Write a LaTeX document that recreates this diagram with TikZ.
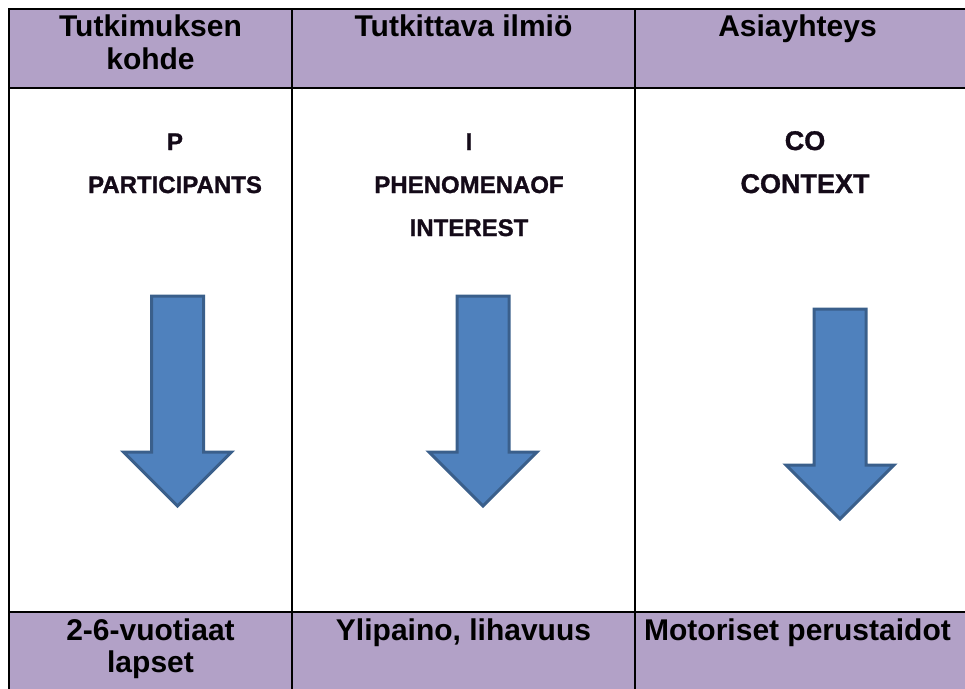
\documentclass[tikz,border=0pt]{standalone}
\usepackage{fontspec}
\setmainfont{Liberation Sans}
\newfontfamily\heavyfont[BoldFeatures={FakeBold=1.2}]{Liberation Sans}
\usetikzlibrary{positioning}
\definecolor{lilac}{HTML}{B2A1C7}
\definecolor{arrowblue}{HTML}{4F81BD}
\definecolor{arrowedge}{HTML}{3A5F8B}
\definecolor{inkpurple}{HTML}{140A18}
\tikzset{
rule/.style={draw=black, line width=2.5pt}, band/.style={fill=lilac},
title/.style={font=\bfseries\fontsize{30}{32.5}\selectfont, align=center, inner sep=0, anchor=base},
pico/.style={font=\heavyfont\bfseries\fontsize{24}{43}\selectfont, text=inkpurple, align=center, inner sep=0, anchor=base},
bigarrow/.style={fill=arrowblue, draw=arrowedge, line width=3pt, line join=miter}}

\begin{document}
\begin{tikzpicture}[x=1pt, y=-1pt]
\useasboundingbox (0,0) rectangle (965,688);
% coloured rows
\fill [band] (9,9) rectangle (975,88);
\fill [band] (9,612) rectangle (975,700);
% grid
\draw [rule] (9,700) -- (9,9) -- (975,9);
\draw [rule] (9,88) -- (975,88);
\draw [rule] (9,612) -- (975,612);
\draw [rule] (292,9) -- (292,700);
\draw [rule] (635,9) -- (635,700);
% texts (y is the baseline of the last line)
\node [title] at (150.5,69.2) (head-1) {Tutkimuksen\\kohde};
\node [title] at (463.5,36.7) (head-2) {Tutkittava ilmiö};
\node [title] at (797.5,36.7) (head-3) {Asiayhteys};
\node [pico] at (175,193) (pico-1) {P\\PARTICIPANTS};
\node [pico] at (469,236) (pico-2) {I\\PHENOMENAOF\\INTEREST};
\node [pico, font=\heavyfont\bfseries\fontsize{27}{43}\selectfont] at (805,193) (pico-3) {CO\\CONTEXT};
\node [title] at (150.5,672.5) (foot-1) {2-6-vuotiaat\\lapset};
\node [title] at (463.5,640) (foot-2) {Ylipaino, lihavuus};
\node [title] at (797.5,640) (foot-3) {Motoriset perustaidot};
% arrows
\foreach \ax/\ay [count=\j] in {177.5/296, 483/296, 840/309}{
  \coordinate (top-\j) at (\ax,\ay);
  \draw [bigarrow] (top-\j) ++(-26,0) -- ++(0,156) -- ++(-28,0) -- ++(54,54)
    -- ++(54,-54) -- ++(-28,0) -- ++(0,-156) -- cycle;
}
\end{tikzpicture}
\end{document}
